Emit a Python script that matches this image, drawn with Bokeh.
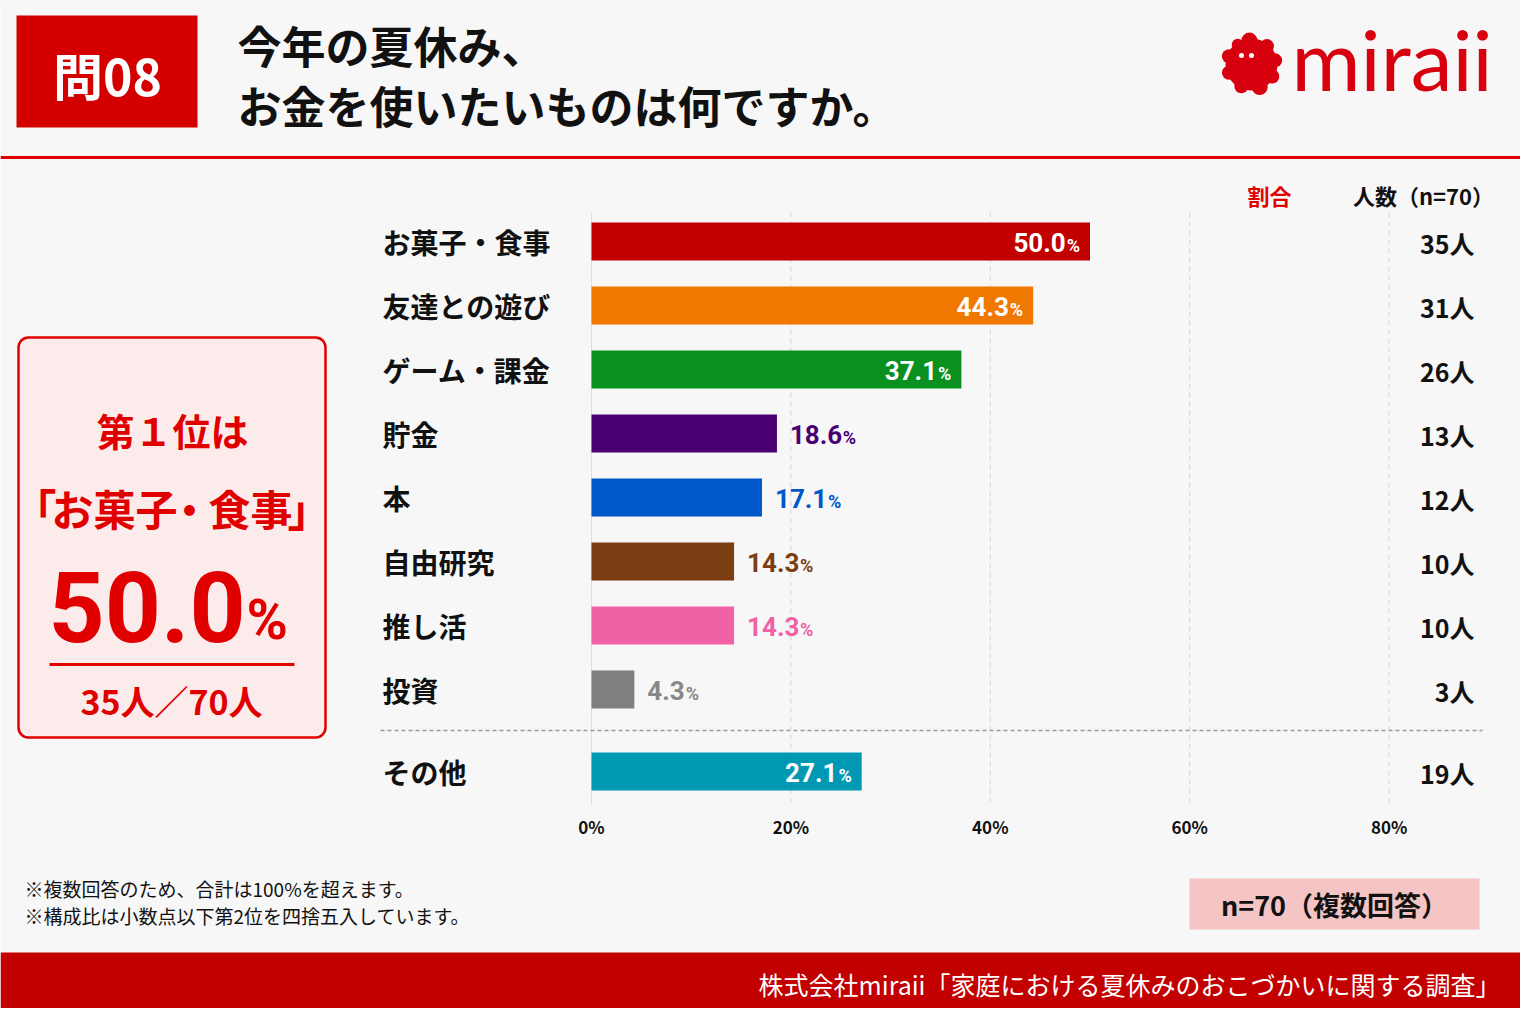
import math
from bokeh.plotting import figure
from bokeh.models import Range1d
from bokeh.core.properties import value
from bokeh.embed import file_html
from bokeh.resources import INLINE

# ---------------- data ----------------
categories = ["お菓子・食事", "友達との遊び", "ゲーム・課金", "貯金", "本", "自由研究", "推し活", "投資", "その他"]
percents = [50.0, 44.3, 37.1, 18.6, 17.1, 14.3, 14.3, 4.3, 27.1]
counts = [35, 31, 26, 13, 12, 10, 10, 3, 19]
bar_colors = ["#c10000", "#f07800", "#0a901e", "#4a0072", "#0058c8", "#7b3d12", "#f062a5", "#808080", "#0098b3"]
label_colors = ["#ffffff", "#ffffff", "#ffffff", "#4a0072", "#0058c8", "#7b3d12", "#f062a5", "#888888", "#ffffff"]
ticks = [0, 20, 40, 60, 80]
tick_labels = ["0%", "20%", "40%", "60%", "80%"]
n_total = 70

JP = "Noto Sans CJK JP"
NUM = "Roboto"

W, H = 1520, 1008
PPU = 9.97          # pixels per percent
X0 = 599            # pixel of 0%
p = figure(width=W, height=H, output_backend="svg", toolbar_location=None,
           x_range=Range1d(-(X0 - 8) / PPU, -(X0 - 8) / PPU + W / PPU),
           y_range=Range1d(8 + H, 8),
           x_axis_location=None, y_axis_location=None, min_border=0)
p.extra_x_ranges = {"px": Range1d(8, 8 + W)}
p.grid.visible = False
p.outline_line_color = None
p.background_fill_color = "#f7f7f7"
p.border_fill_color = "#f7f7f7"


def T(x, y, s, size, color="#111111", font=JP, bold=True, align="left"):
    p.text(x=[x], y=[y], text=[s], x_range_name="px", text_font=value(font),
           text_font_size=f"{size}px", text_font_style="bold" if bold else "normal",
           text_color=color, text_align=align, text_baseline="middle")


# ---------------- header ----------------
p.quad(left=[24], right=[205], top=[23], bottom=[135], fill_color="#d40000", line_color=None, x_range_name="px")
T(115, 81, "問08", 50, color="#ffffff", align="center")
T(245, 52, "今年の夏休み、", 44)
T(245, 112, "お金を使いたいものは何ですか。", 44)

# logo blob
cx, cy = 1259, 72
bumps = [(95, 8), (50, 7), (10, 7), (-30, 7), (-70, 8), (-115, 7), (-160, 7), (160, 7), (125, 6)]
bx = [cx + 24 * math.cos(math.radians(a)) for a, r in bumps]
by = [cy - 24 * math.sin(math.radians(a)) for a, r in bumps]
p.circle(x=bx, y=by, radius=[r for a, r in bumps], fill_color="#d7000f", line_color=None, x_range_name="px")
p.circle(x=[cx], y=[cy], radius=26, fill_color="#d7000f", line_color=None, x_range_name="px")
p.circle(x=[1249, 1259], y=[63, 63], radius=2.5, fill_color="#ffffff", line_color=None, x_range_name="px")
T(1299, 66, "miraii", 84, color="#d7000f", font="Lato", bold=False)

p.segment(x0=[8], x1=[1528], y0=[165], y1=[165], line_color="#e00000", line_width=3, x_range_name="px")

# ---------------- column headers ----------------
T(1277, 202, "割合", 22, color="#e00000", align="center")
T(1431, 202, "人数（n=70）", 22, align="center")

# ---------------- left highlight box ----------------
p.rect(x=[179.5], y=[545], width=[307], height=[400], fill_color="#fcebeb", line_color="#e00000",
       line_width=2.5, border_radius=10, x_range_name="px")
RED = "#e00000"
top_a, top_b = categories[0].split("・")
T(180, 437, "第１位は", 38, color=RED, align="center")
T(42, 515, "「", 44, color=RED, align="center")
T(122, 515, top_a, 42, color=RED, align="center")
T(197, 515, "・", 42, color=RED, align="center")
T(258, 515, top_b, 42, color=RED, align="center")
T(317, 515, "」", 44, color=RED, align="center")
T(56, 614, f"{percents[0]:.1f}", 98, color=RED, font=NUM)
T(254, 627, "%", 56, color=RED, font=NUM)
p.segment(x0=[57], x1=[302], y0=[672], y1=[672], line_color=RED, line_width=3, x_range_name="px")
T(179, 708, f"{counts[0]}人／{n_total}人", 34, color=RED, align="center")

# ---------------- bar chart ----------------
row_y = [249 + 64 * i for i in range(len(categories) - 1)] + [779]
grid_top, grid_bottom = 220, 812
p.segment(x0=ticks[1:], x1=ticks[1:], y0=[grid_top] * 4, y1=[grid_bottom] * 4,
          line_color="#d4d4d4", line_width=1, line_dash="5 4")
p.segment(x0=[0], x1=[0], y0=[grid_top], y1=[grid_bottom], line_color="#dddddd", line_width=1)
p.segment(x0=[388], x1=[1490], y0=[738], y1=[738], line_color="#9a9a9a", line_width=1.3,
          line_dash="4 3", x_range_name="px")

p.hbar(y=row_y, left=0, right=percents, height=38, fill_color=bar_colors, line_color=None)

for cat, y in zip(categories, row_y):
    T(390, y, cat, 28)
for c, y in zip(counts, row_y):
    T(1482, y + 1, f"{c}人", 25, align="right")

p.text(x=ticks, y=[834] * len(ticks), text=tick_labels, text_font=value(JP), text_font_size="17px",
       text_font_style="bold", text_color="#111111", text_align="center", text_baseline="middle")

NUM_SIZE, PCT_SIZE = 26, 18


def num_w(s):
    return sum(0.5625 * NUM_SIZE if ch.isdigit() else 0.27 * NUM_SIZE for ch in s)


ins = [i for i, v in enumerate(percents) if v >= 25]
outs = [i for i, v in enumerate(percents) if v < 25]
pct_w = 0.74 * PCT_SIZE
# inside labels (white, right aligned)
p.text(x=[percents[i] for i in ins], y=[row_y[i] + 1 for i in ins], text=[f"{percents[i]:.1f}" for i in ins],
       x_offset=-10 - pct_w - 1, text_font=value(NUM), text_font_size=f"{NUM_SIZE}px", text_font_style="bold",
       text_color=[label_colors[i] for i in ins], text_align="right", text_baseline="middle")
p.text(x=[percents[i] for i in ins], y=[row_y[i] + 4 for i in ins], text=["%"] * len(ins),
       x_offset=-10, text_font=value(NUM), text_font_size=f"{PCT_SIZE}px", text_font_style="bold",
       text_color=[label_colors[i] for i in ins], text_align="right", text_baseline="middle")
# outside labels (coloured, left aligned)
p.text(x=[percents[i] for i in outs], y=[row_y[i] + 1 for i in outs], text=[f"{percents[i]:.1f}" for i in outs],
       x_offset=13, text_font=value(NUM), text_font_size=f"{NUM_SIZE}px", text_font_style="bold",
       text_color=[label_colors[i] for i in outs], text_align="left", text_baseline="middle")
p.text(x=[percents[i] for i in outs], y=[row_y[i] + 4 for i in outs], text=["%"] * len(outs),
       x_offset=[13 + num_w(f"{percents[i]:.1f}") + 2 for i in outs], text_font=value(NUM),
       text_font_size=f"{PCT_SIZE}px", text_font_style="bold",
       text_color=[label_colors[i] for i in outs], text_align="left", text_baseline="middle")

# ---------------- footnotes ----------------
T(32, 896, "※複数回答のため、合計は100%を超えます。", 19, bold=False)
T(32, 923, "※構成比は小数点以下第2位を四捨五入しています。", 19, bold=False)
p.quad(left=[1197], right=[1487], top=[886], bottom=[937], fill_color="#f5c4c4", line_color=None, x_range_name="px")
T(1342, 912, f"n={n_total}（複数回答）", 27, align="center")

# ---------------- footer ----------------
p.quad(left=[8], right=[1528], top=[960], bottom=[1016], fill_color="#c20000", line_color=None, x_range_name="px")
T(1508, 991, "株式会社miraii「家庭における夏休みのおこづかいに関する調査」", 25, color="#ffffff", bold=False, align="right")

open("out.html", "w").write(file_html(p, INLINE))
